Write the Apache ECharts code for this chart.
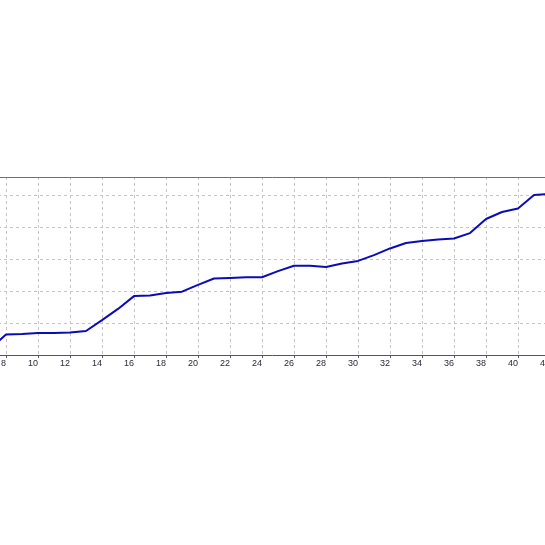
<!DOCTYPE html>
<html>
<head>
<meta charset="utf-8">
<script src="https://cdn.jsdelivr.net/npm/echarts@6/dist/echarts.min.js"></script>
<style>html,body{margin:0;padding:0;background:#fff;}#c{width:545px;height:545px;}</style>
</head>
<body>
<div id="c"></div>
<script>
var trades = [7,8,9,10,11,12,13,14,15,16,17,18,19,20,21,22,23,24,25,26,27,28,29,30,31,32,33,34,35,36,37,38,39,40,41,42];
var balance = [0.19,0.64,0.66,0.69,0.69,0.70,0.75,1.09,1.44,1.84,1.86,1.94,1.98,2.19,2.39,2.41,2.43,2.43,2.62,2.79,2.79,2.75,2.86,2.94,3.12,3.33,3.50,3.56,3.61,3.64,3.81,4.25,4.47,4.58,5.00,5.03];

var pts = trades.map(function(t, i){ return [t, balance[i]]; });
var chart = echarts.init(document.getElementById('c'), null, {renderer:'canvas'});
var gridDash = {show:true, lineStyle:{color:'#c4c4c4', type:[3,3], width:1}};
chart.setOption({
  animation:false,
  backgroundColor:'#ffffff',
  grid:{left:-26, right:-37, top:177, bottom:190, containLabel:false, outerBoundsMode:'none'},
  xAxis:[{
    type:'value', min:6, max:44, interval:2, position:'bottom',
    axisLine:{show:true, onZero:false, lineStyle:{color:'#555555', width:1}},
    axisTick:{show:true, length:3, lineStyle:{color:'#555555'}},
    axisLabel:{show:true, align:'right', margin:4, fontSize:9, fontFamily:'Liberation Sans', color:'#2a2a3a', hideOverlap:false},
    splitLine:gridDash
  },{
    type:'value', min:6, max:44, interval:2, position:'top',
    axisLine:{show:true, onZero:false, lineStyle:{color:'#707070', width:1}},
    axisTick:{show:false}, axisLabel:{show:false}, splitLine:{show:false}
  }],
  yAxis:{
    type:'value', min:0, max:5.5625, interval:1,
    axisLine:{show:false}, axisTick:{show:false}, axisLabel:{show:false},
    splitLine:gridDash
  },
  series:[{
    type:'line', data:pts, xAxisIndex:0, showSymbol:false, symbol:'none',
    lineStyle:{color:'#0c0cb4', width:2}, z:5
  }]
});
</script>
</body>
</html>
